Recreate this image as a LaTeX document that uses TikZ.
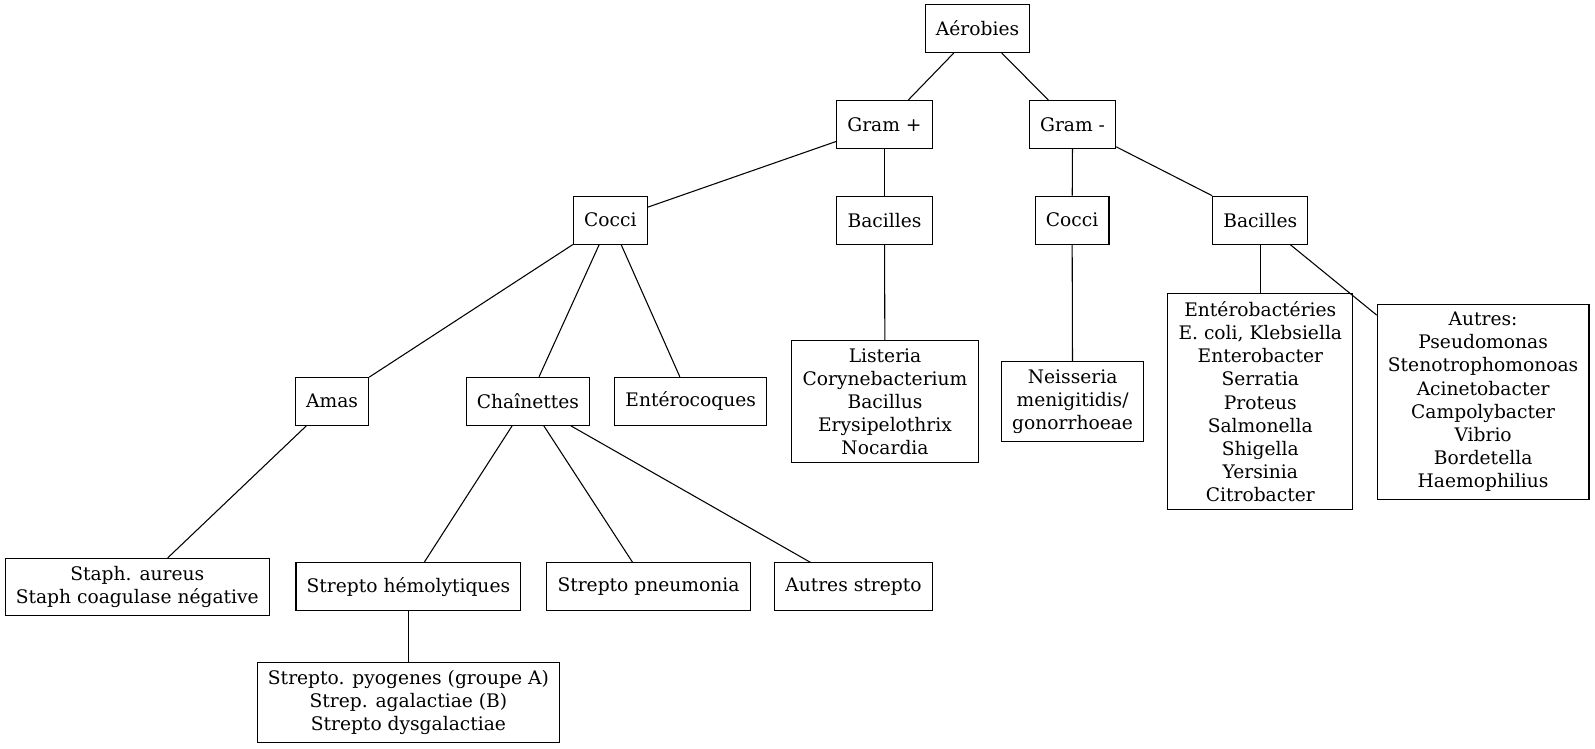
\documentclass[tikz,border=0pt]{standalone}
\usepackage{fontspec}
\setmainfont{DejaVu Serif}
\begin{document}
\begin{tikzpicture}[x=0.75pt, y=-0.75pt,
        box/.style={draw, line width=0.8pt, align=center,
            minimum width=54pt, minimum height=36pt,
            inner xsep=8pt, inner ysep=5.8pt,
            font=\fontsize{14}{17.4}\selectfont},
        every path/.style={line width=0.8pt}]
    \useasboundingbox (0,0) rectangle (1595,749);
    % top levels
    \node[box] (aero) at (977.5,28.5) {Aérobies};
    \node[box] (gpos) at (884.5,124.6) {Gram +};
    \node[box] (gneg) at (1072.6,124.6) {Gram -};
    \node[box] (cocpos) at (610.3,220.2) {Cocci};
    \node[box] (bacpos) at (884.5,220.2) {Bacilles};
    \node[box] (cocneg) at (1072.1,220.2) {Cocci};
    \node[box] (bacneg) at (1260.3,220.2) {Bacilles};
    % third level
    \node[box] (amas) at (332.1,401.3) {Amas};
    \node[box] (chain) at (527.9,401.3) {Chaînettes};
    \node[box] (entero) at (690.7,401.3) {Entérocoques};
    \node[box] (listeria) at (885,401.8) {Listeria\\Corynebacterium\\Bacillus\\Erysipelothrix\\Nocardia};
    \node[box] (neiss) at (1072.6,401.8) {Neisseria\\menigitidis/\\gonorrhoeae};
    \node[box] (enterob) at (1260.3,401.8) {Entérobactéries\\E. coli, Klebsiella\\Enterobacter\\Serratia\\Proteus\\Salmonella\\Shigella\\Yersinia\\Citrobacter};
    \node[box] (autres) at (1483.1,401.8) {Autres:\\Pseudomonas\\Stenotrophomonoas\\Acinetobacter\\Campolybacter\\Vibrio\\Bordetella\\Haemophilius};
    % bottom
    \node[box] (staph) at (137.3,586.9) {Staph. aureus\\Staph coagulase négative};
    \node[box] (hemo) at (408.4,586.9) {Strepto hémolytiques};
    \node[box] (pneumo) at (648.5,586.9) {Strepto pneumonia};
    \node[box] (autstr) at (853.4,586.9) {Autres strepto};
    \node[box] (pyog) at (408.4,702.4) {Strepto. pyogenes (groupe A)\\Strep. agalactiae (B)\\Strepto dysgalactiae};
    % edges
    \draw (aero) -- (gpos);
    \draw (aero) -- (gneg);
    \draw (gpos) -- (cocpos);
    \draw (gpos) -- (bacpos);
    \draw (gneg) -- (cocneg);
    \draw (gneg) -- (bacneg);
    \draw (cocpos) -- (amas);
    \draw (cocpos) -- (chain);
    \draw (cocpos) -- (entero);
    \draw (bacpos) -- (listeria);
    \draw (cocneg) -- (neiss);
    \draw (bacneg) -- (enterob);
    \draw (bacneg) -- (autres);
    \draw (amas) -- (staph);
    \draw (chain) -- (hemo);
    \draw (chain) -- (pneumo);
    \draw (chain) -- (autstr);
    \draw (hemo) -- (pyog);
\end{tikzpicture}
\end{document}
